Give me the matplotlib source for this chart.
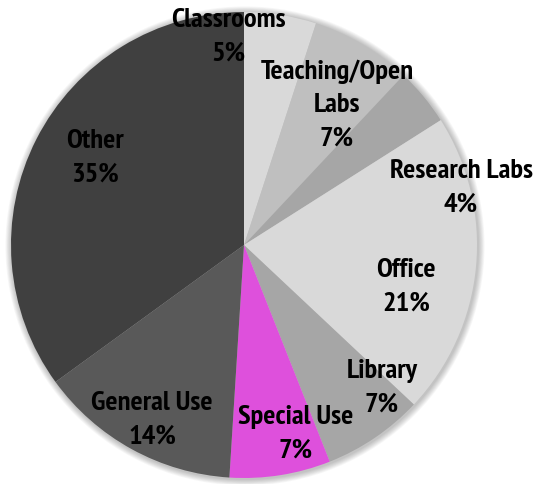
import matplotlib.pyplot as plt
from matplotlib.patches import Circle

plt.rcParams['font.family'] = ['PT Sans Narrow', 'DejaVu Sans']

# space use shares, clockwise from 12 o'clock
categories = ['Classrooms', 'Teaching/Open\nLabs', 'Research Labs', 'Office',
              'Library', 'Special Use', 'General Use', 'Other']
shares = [5, 7, 4, 21, 7, 7, 14, 35]
colors = ['#d9d9d9', '#bfbfbf', '#a6a6a6', '#d9d9d9',
          '#a6a6a6', '#de50dc', '#595959', '#404040']

W, H = 536, 485
CX, CY, R = 244, H - 246, 233

# label block centres, in pixels from the top-left corner
label_xy = [(228, 37), (337, 105), (461, 188), (406, 287),
            (382, 388), (296, 434), (152, 420), (95, 158)]

fig = plt.figure(figsize=(W / 100, H / 100), dpi=100)
ax = fig.add_axes([0, 0, 1, 1])

# soft shadow around the pie
for i in range(8):
    ax.add_patch(Circle((CX + 1, CY - 1), R + 1 + i * 0.8, color='black',
                        alpha=0.03, lw=0, zorder=0))

wedges, _ = ax.pie(shares, colors=colors, startangle=90, counterclock=False,
                   center=(CX, CY), radius=R, frame=True,
                   wedgeprops=dict(linewidth=0))
ax.set_xlim(0, W)
ax.set_ylim(0, H)
ax.set_aspect('equal')
ax.axis('off')

for name, val, (px, py) in zip(categories, shares, label_xy):
    ax.text(px, H - py, f'{name}\n{val}%', ha='center', va='center',
            fontsize=20.5, fontweight='bold', linespacing=1.5, zorder=5)

fig.savefig('out.png', dpi=100)
